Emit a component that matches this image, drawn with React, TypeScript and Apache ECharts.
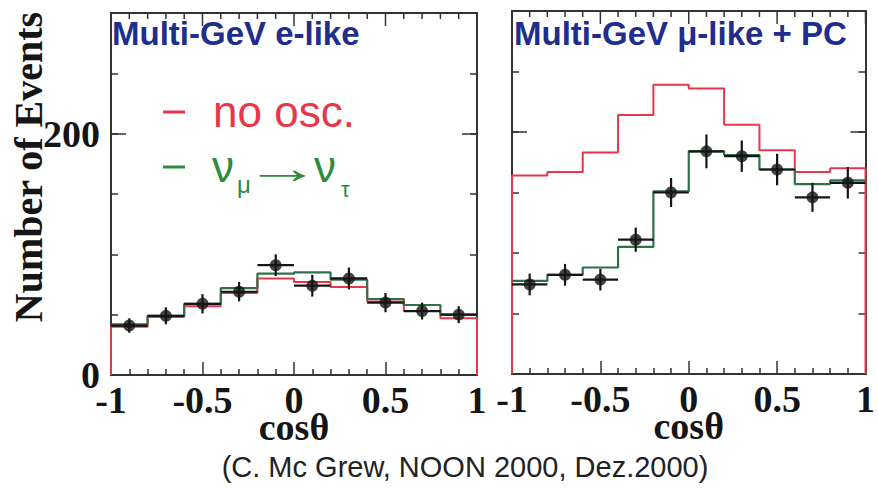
import React, { useEffect, useRef } from 'react';
import * as echarts from 'echarts';

const binCenters = [-0.9, -0.7, -0.5, -0.3, -0.1, 0.1, 0.3, 0.5, 0.7, 0.9];
const binWidth = 0.2;

const eObs = [41, 49, 59, 69, 91, 74, 80, 60, 53, 50];
const eObsErr = [6, 7, 8, 8, 9, 9, 9, 8, 7, 7];
const eNoOsc = [40, 48, 57, 68, 80, 77, 73, 61, 53, 47];
const eOsc = [42, 49, 59, 72, 84, 85, 79, 63, 58, 50];

const muObs = [74, 82, 78, 111, 150, 184, 180, 169, 146, 158];
const muObsErr = [9, 9, 9, 10, 12, 14, 13, 13, 12, 13];
const muNoOsc = [164, 167, 183, 214, 239, 236, 206, 185, 167, 170];
const muOsc = [77, 82, 88, 105, 151, 184, 181, 169, 157, 160];

const yLabelValues = [0, 200];
const xMajorTicks = [-1, -0.5, 0, 0.5, 1];
const xMinorTicks = [-0.9, -0.8, -0.7, -0.6, -0.4, -0.3, -0.2, -0.1, 0.1, 0.2, 0.3, 0.4, 0.6, 0.7, 0.8, 0.9];
const Y_MAX = 300;

const RED = '#e8364a';
const GREEN = '#2f7048';
const LEG_GREEN = '#2f8a3c';
const BLUE = '#1f2d8c';
const INK = '#151515';
const FRAME = '#333';
const SERIF = '"Liberation Serif", "Times New Roman", serif';
const SANS = '"Liberation Sans", Arial, sans-serif';

const GRID_L = { left: 111, top: 13, width: 366, height: 362 };
const GRID_R = { left: 512, top: 11, width: 358, height: 363 };

function steps(vals: number[], closed: boolean) {
  const pts: number[][] = [];
  const lo = +(binCenters[0] - binWidth / 2).toFixed(3);
  const hi = +(binCenters[binCenters.length - 1] + binWidth / 2).toFixed(3);
  if (closed) pts.push([lo, 0]);
  vals.forEach((v, i) => {
    const c = binCenters[i];
    pts.push([+(c - binWidth / 2).toFixed(3), v], [+(c + binWidth / 2).toFixed(3), v]);
  });
  if (closed) pts.push([hi, 0]);
  return pts;
}

function xAxis(gridIndex: number) {
  return {
    type: 'value', gridIndex, position: 'bottom', min: -1, max: 1, interval: 0.5,
    axisLine: { show: true, onZero: false, lineStyle: { color: FRAME, width: 2 } },
    axisTick: { show: true, inside: true, length: 13, lineStyle: { color: FRAME, width: 1.5 } },
    minorTick: { show: true, splitNumber: 5, length: 6, lineStyle: { color: FRAME, width: 1.5 } },
    splitLine: { show: false }, minorSplitLine: { show: false },
    axisLabel: { margin: 6, color: INK, fontFamily: SERIF, fontWeight: 'bold', fontSize: 38 },
    name: 'cosθ', nameLocation: 'middle', nameGap: 33, nameMoveOverlap: false,
    nameTextStyle: { color: INK, fontFamily: SERIF, fontWeight: 'bold', fontSize: 38 },
  };
}

function yAxis(gridIndex: number, position: string, interval: number, tickLen: number, showLabels: boolean) {
  return {
    type: 'value', gridIndex, position, offset: 0, min: 0, max: Y_MAX, interval,
    axisLine: { show: true, onZero: false, lineStyle: { color: FRAME, width: 2 } },
    axisTick: { show: true, inside: true, length: tickLen, lineStyle: { color: FRAME, width: 1.5 } },
    splitLine: { show: false },
    axisLabel: {
      show: showLabels, margin: 11, color: INK, fontFamily: SERIF, fontWeight: 'bold', fontSize: 38,
      formatter: (v: number) => (yLabelValues.includes(v) ? String(v) : ''),
    },
  };
}

function panelSeries(grid: number, obs: number[], err: number[], noOsc: number[], osc: number[]) {
  const xIdx = grid;
  const yIdx = grid * 4;
  const pts = binCenters.map((c, i) => [c, obs[i], err[i]]);
  return [
    { type: 'line', xAxisIndex: xIdx, yAxisIndex: yIdx, data: steps(noOsc, true), showSymbol: false, clip: false, lineStyle: { color: RED, width: 2 }, z: 2 },
    { type: 'line', xAxisIndex: xIdx, yAxisIndex: yIdx, data: steps(osc, false), showSymbol: false, clip: false, lineStyle: { color: GREEN, width: 2.2 }, z: 3 },
    {
      type: 'custom', xAxisIndex: xIdx, yAxisIndex: yIdx, data: pts, encode: { x: 0, y: 1 }, z: 4,
      renderItem: (params: any, api: any) => {
        const x = api.value(0);
        const y = api.value(1);
        const e = api.value(2);
        const top = api.coord([x, y + e]);
        const bot = api.coord([x, y - e]);
        const l = api.coord([x - binWidth / 2, y]);
        const r = api.coord([x + binWidth / 2, y]);
        return {
          type: 'group',
          children: [
            { type: 'line', shape: { x1: top[0], y1: top[1], x2: bot[0], y2: bot[1] }, style: { stroke: INK, lineWidth: 2.2 } },
            { type: 'line', shape: { x1: l[0], y1: l[1], x2: r[0], y2: r[1] }, style: { stroke: INK, lineWidth: 2.2 } },
          ],
        };
      },
    },
    { type: 'scatter', xAxisIndex: xIdx, yAxisIndex: yIdx, data: pts.map((p) => [p[0], p[1]]), symbol: 'circle', symbolSize: 12, itemStyle: { color: INK }, z: 5 },
  ];
}

function txt(text: string, x: number, y: number, font: string, fill: string, align = 'left', extra: any = {}) {
  return {
    type: 'text', x, y, silent: true, ...extra,
    style: { text, font, fill, align, verticalAlign: 'middle', textAlign: align, textVerticalAlign: 'middle' },
  };
}

const staticGraphics = [
  txt('Number of Events', 28, 167, `bold 40px ${SERIF}`, INK, 'center', { rotation: Math.PI / 2 }),
  txt('Multi-GeV e-like', 112, 33, `bold 33px ${SANS}`, BLUE),
  txt('Multi-GeV μ-like + PC', 514, 33, `bold 33px ${SANS}`, BLUE),
  { type: 'line', silent: true, shape: { x1: 163, y1: 112, x2: 185, y2: 112 }, style: { stroke: RED, lineWidth: 3 } },
  txt('no osc.', 213, 111, `44px ${SANS}`, RED),
  { type: 'line', silent: true, shape: { x1: 163, y1: 167, x2: 185, y2: 167 }, style: { stroke: LEG_GREEN, lineWidth: 3 } },
  txt('ν', 212, 166, `44px ${SANS}`, LEG_GREEN),
  txt('μ', 237, 184, `24px ${SANS}`, LEG_GREEN),
  txt('→', 244, 168, `44px ${SANS}`, LEG_GREEN, 'left', { scaleX: 1.75 }),
  txt('ν', 314, 166, `44px ${SANS}`, LEG_GREEN),
  txt('τ', 341, 189, `22px ${SANS}`, LEG_GREEN),
  txt('(C. Mc Grew, NOON 2000, Dez.2000)', 465, 467, `29px ${SANS}`, '#222', 'center'),
];

export default function App() {
  const ref = useRef<HTMLDivElement>(null);
  useEffect(() => {
    if (!ref.current) return;
    const chart = echarts.init(ref.current, null, { renderer: 'svg' });
    chart.setOption({
      animation: false,
      backgroundColor: '#ffffff',
      grid: [GRID_L, GRID_R],
      xAxis: [xAxis(0), xAxis(1)],
      yAxis: [
        yAxis(0, 'left', 50, 7, false), yAxis(0, 'left', 200, 15, true),
        yAxis(0, 'right', 50, 7, false), yAxis(0, 'right', 200, 15, false),
        yAxis(1, 'left', 50, 7, false), yAxis(1, 'left', 200, 15, false),
        yAxis(1, 'right', 50, 7, false), yAxis(1, 'right', 200, 15, false),
      ],
      series: [...panelSeries(0, eObs, eObsErr, eNoOsc, eOsc), ...panelSeries(1, muObs, muObsErr, muNoOsc, muOsc)],
      graphic: staticGraphics,
    });

    // top frame edge and its inside ticks, drawn as thin filled bars through each panel's scales
    const frameEls: any[] = [];
    [0, 1].forEach((g) => {
      const finder = { xAxisIndex: g, yAxisIndex: g * 4 };
      const a = chart.convertToPixel(finder, [-1, Y_MAX]) as number[];
      const b = chart.convertToPixel(finder, [1, Y_MAX]) as number[];
      frameEls.push({
        type: 'rect', silent: true, z: 50,
        shape: { x: a[0] - 1, y: a[1] - 1, width: b[0] - a[0] + 2, height: 2 },
        style: { fill: FRAME },
      });
      const addTick = (v: number, len: number) => {
        const p = chart.convertToPixel(finder, [v, Y_MAX]) as number[];
        frameEls.push({
          type: 'rect', silent: true, z: 50,
          shape: { x: p[0] - 0.75, y: p[1], width: 1.5, height: len },
          style: { fill: FRAME },
        });
      };
      xMajorTicks.forEach((v) => addTick(v, 13));
      xMinorTicks.forEach((v) => addTick(v, 6));
    });
    chart.setOption({ graphic: [...staticGraphics, ...frameEls] });

    return () => chart.dispose();
  }, []);
  return <div ref={ref} style={{ position: 'fixed', left: 0, top: 0, width: 878, height: 489, background: '#fff' }} />;
}
